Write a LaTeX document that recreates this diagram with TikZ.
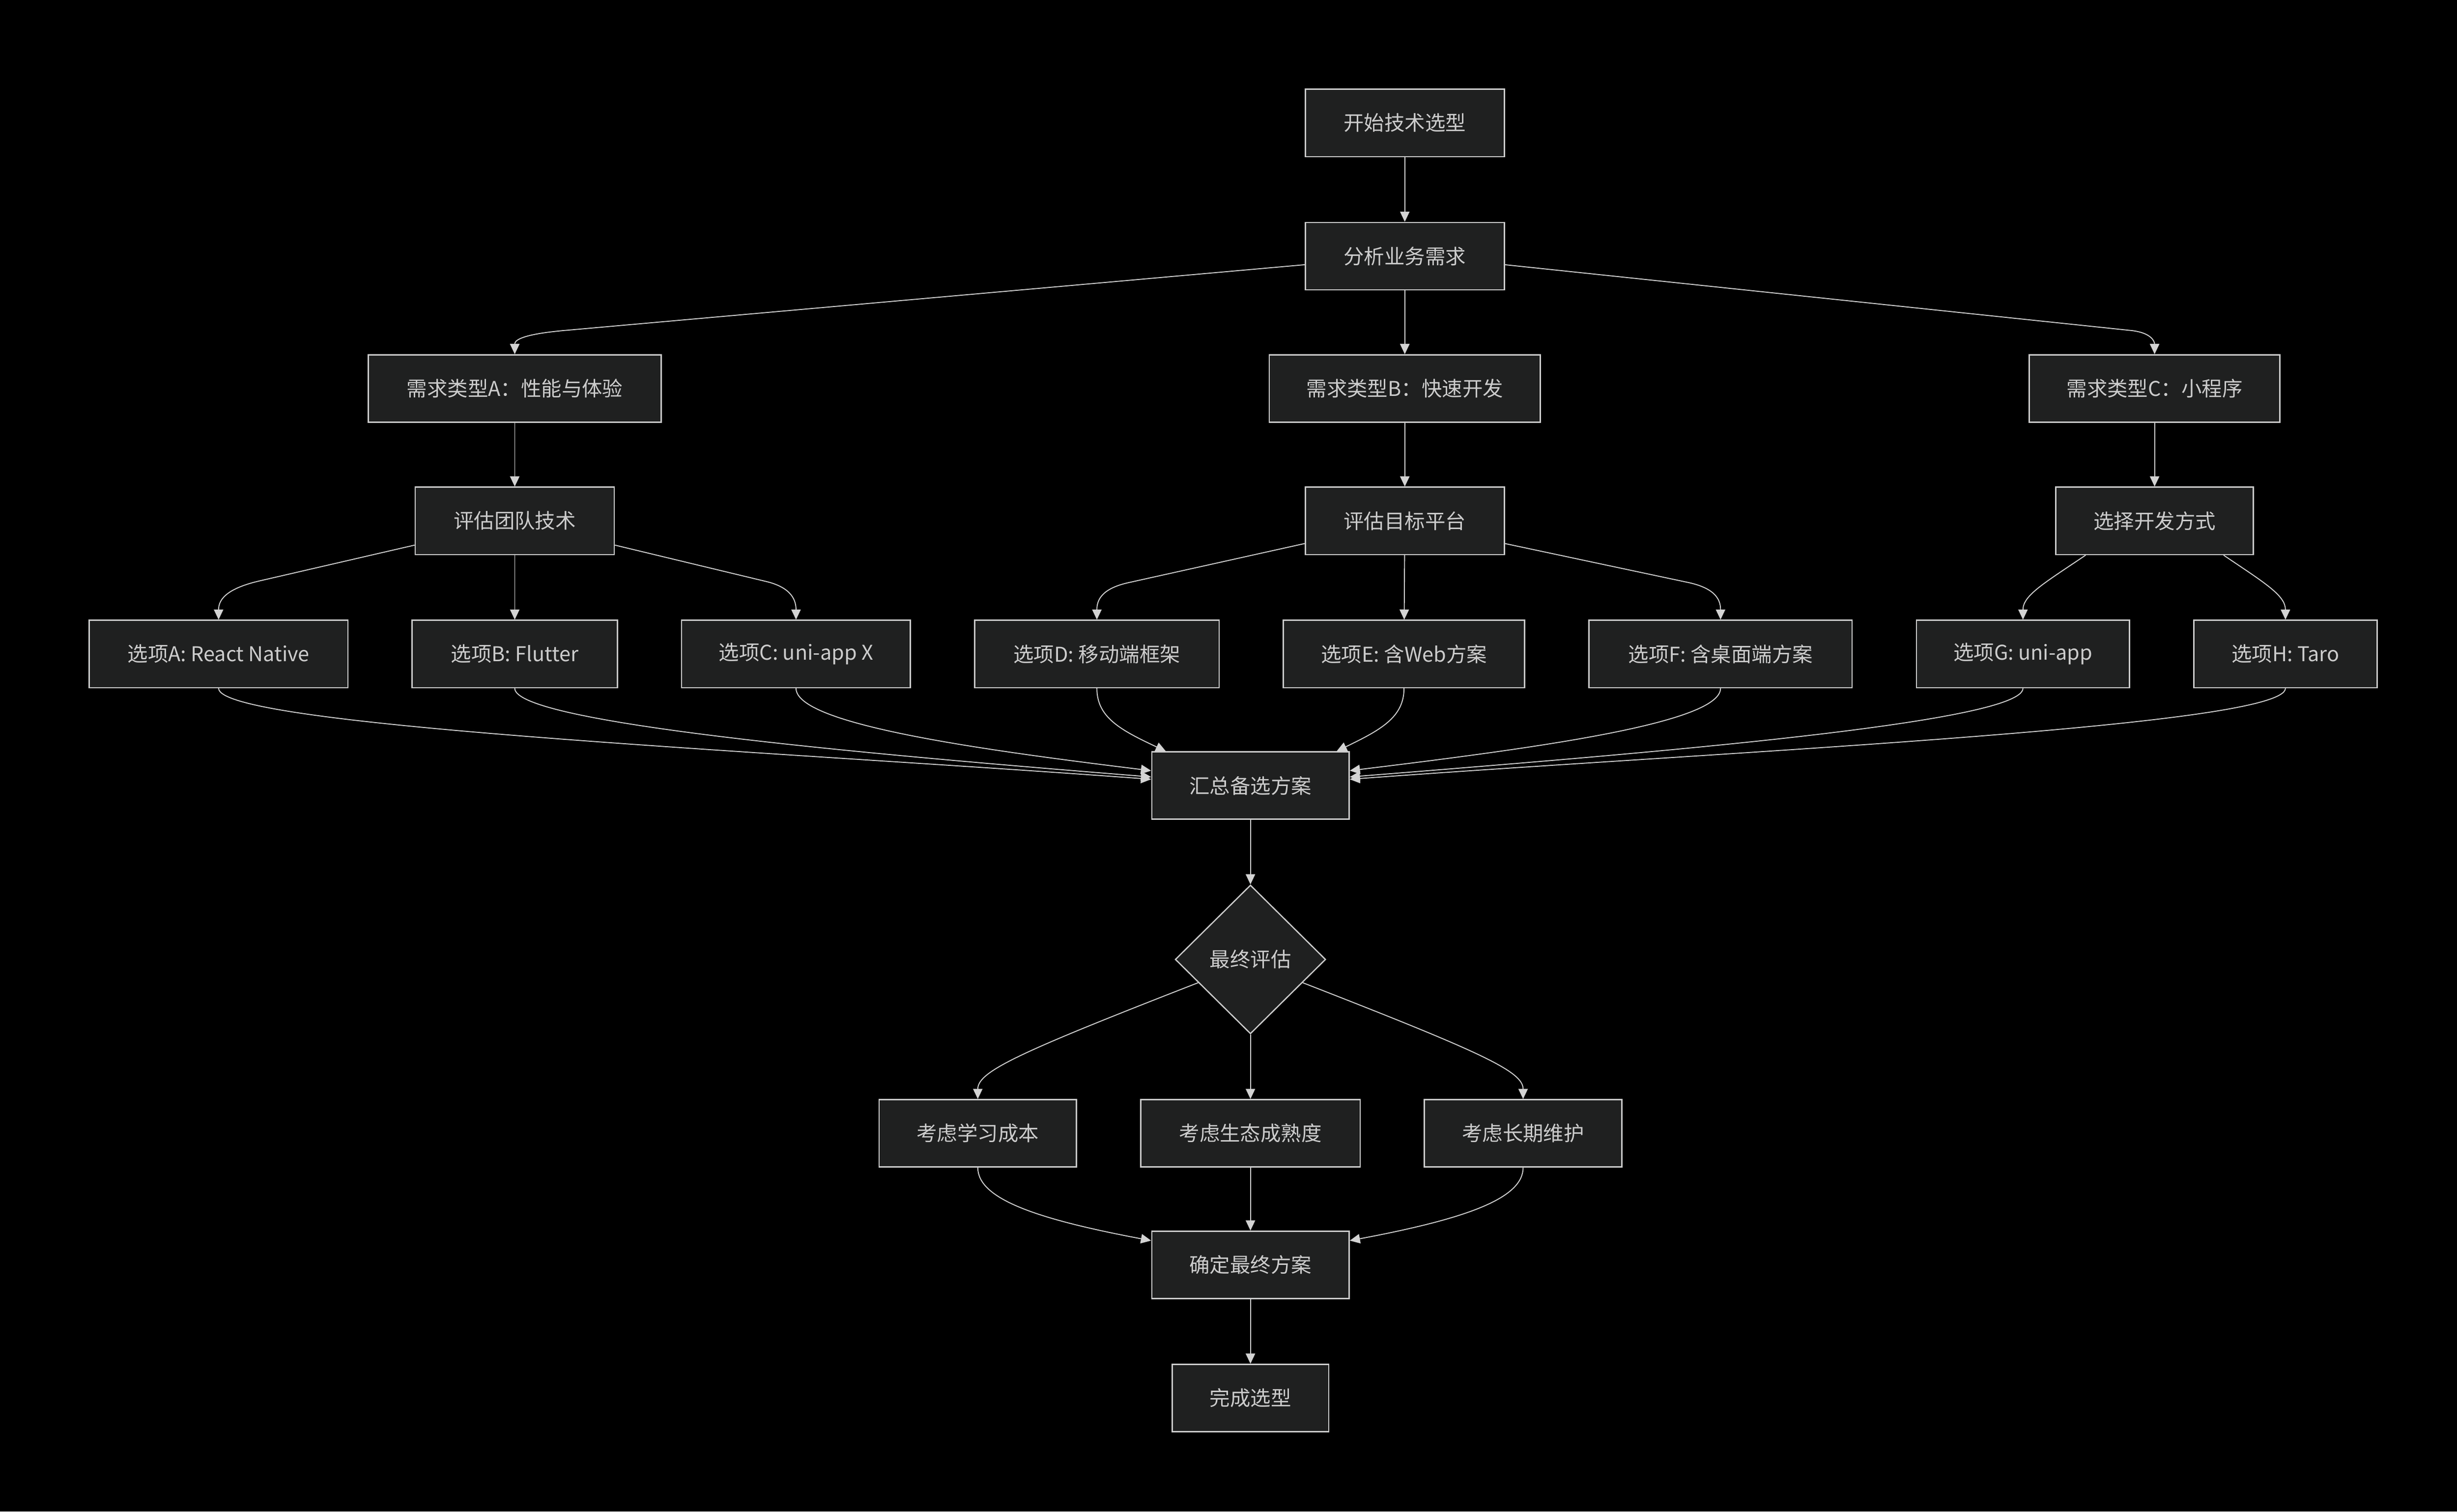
\documentclass[tikz,border=0pt]{standalone}
\usepackage{fontspec}
\setmainfont{Noto Sans CJK SC}
\usetikzlibrary{arrows.meta,shapes.geometric}
\definecolor{nodefill}{HTML}{1F2020}
\definecolor{nodeline}{HTML}{CCCCCC}
\definecolor{txtc}{HTML}{CCCCCC}
\definecolor{edgec}{HTML}{D3D3D3}
\begin{document}
\begin{tikzpicture}[x=1pt,y=-1pt,
  box/.style={draw=nodeline, fill=nodefill, line width=0.8pt, text=txtc,
    minimum height=43pt, inner sep=0pt, font=\fontsize{13}{15}\selectfont},
  dia/.style={diamond, draw=nodeline, fill=nodefill, line width=0.8pt, text=txtc,
    minimum width=96pt, minimum height=95pt, inner sep=0pt, font=\fontsize{13}{15}\selectfont},
  arr/.style={draw=edgec, line width=0.6pt, -{Triangle[length=6.5pt,width=6pt]}}]
\fill[black] (0,0) rectangle (1568,965);
\useasboundingbox (0,0) rectangle (1568,965);

% nodes
\node[box, minimum width=127pt] (start) at (896.5,78.5) {开始技术选型};
\node[box, minimum width=127pt] (analyze) at (896.5,163.5) {分析业务需求};
\node[box, minimum width=187pt] (reqA) at (328.5,248) {需求类型A：性能与体验};
\node[box, minimum width=173pt] (reqB) at (896.5,248) {需求类型B：快速开发};
\node[box, minimum width=160pt] (reqC) at (1375,248) {需求类型C：小程序};
\node[box, minimum width=127pt] (evalTeam) at (328.5,332.5) {评估团队技术};
\node[box, minimum width=127pt] (evalPlat) at (896.5,332.5) {评估目标平台};
\node[box, minimum width=126pt] (chooseDev) at (1375,332.5) {选择开发方式};
\node[box, minimum width=165pt] (optA) at (139.5,417.5) {选项A: React Native};
\node[box, minimum width=131pt] (optB) at (328.5,417.5) {选项B: Flutter};
\node[box, minimum width=146pt] (optC) at (508,417.5) {选项C: uni-app X};
\node[box, minimum width=156pt] (optD) at (700,417.5) {选项D: 移动端框架};
\node[box, minimum width=154pt] (optE) at (896,417.5) {选项E: 含Web方案};
\node[box, minimum width=168pt] (optF) at (1098,417.5) {选项F: 含桌面端方案};
\node[box, minimum width=136pt] (optG) at (1291,417.5) {选项G: uni-app};
\node[box, minimum width=117pt] (optH) at (1458.5,417.5) {选项H: Taro};
\node[box, minimum width=126pt] (summary) at (798,501.5) {汇总备选方案};
\node[dia] (final) at (798,612.5) {最终评估};
\node[box, minimum width=126pt] (cost) at (624,723.5) {考虑学习成本};
\node[box, minimum width=140pt] (eco) at (798,723.5) {考虑生态成熟度};
\node[box, minimum width=126pt] (maint) at (972,723.5) {考虑长期维护};
\node[box, minimum width=126pt] (confirm) at (798,807.5) {确定最终方案};
\node[box, minimum width=100pt] (done) at (798,892.5) {完成选型};

% edges
\draw[arr] (start) -- (analyze);
\draw[arr] ([yshift=-5.5pt]analyze.west) -- (360,211) .. controls (330,213.7) and (328.5,218) .. (reqA.north);
\draw[arr] (analyze) -- (reqB);
\draw[arr] ([yshift=-5.5pt]analyze.east) -- (1360,211) .. controls (1373,212.4) and (1375,218) .. (reqC.north);
\draw[arr] (reqA) -- (evalTeam);
\draw[arr] (reqB) -- (evalPlat);
\draw[arr] (reqC) -- (chooseDev);

\draw[arr] ([yshift=-15.5pt]evalTeam.west) -- (165,371) .. controls (142.6,376.3) and (139.5,384) .. (optA.north);
\draw[arr] (evalTeam) -- (optB);
\draw[arr] ([yshift=-15.5pt]evalTeam.east) -- (488,371) .. controls (506,375) and (508,384) .. (optC.north);
\draw[arr] ([yshift=-14.5pt]evalPlat.west) -- (720,372) .. controls (702,376) and (700,384) .. (optD.north);
\draw[arr] (evalPlat) -- (optE);
\draw[arr] ([yshift=-14.5pt]evalPlat.east) -- (1078,372) .. controls (1096,376) and (1098,384) .. (optF.north);
\draw[arr] ([xshift=-44pt]chooseDev.south) .. controls (1305,372) and (1291,380) .. (optG.north);
\draw[arr] ([xshift=44pt]chooseDev.south) .. controls (1445,372) and (1458.5,380) .. (optH.north);

\draw[arr] (optA.south) .. controls (139.5,464) and (500,480) .. ([yshift=4pt]summary.west);
\draw[arr] (optB.south) .. controls (328.5,462) and (560,482) .. ([yshift=5.5pt]summary.west);
\draw[arr] (optC.south) .. controls (508,462) and (620,478) .. ([yshift=9.5pt]summary.west);
\draw[arr] (optD.south) .. controls (700,458) and (715,466) .. ([xshift=-54pt]summary.north);
\draw[arr] (optE.south) .. controls (896,458) and (881,466) .. ([xshift=55pt]summary.north);
\draw[arr] (optF.south) .. controls (1098,462) and (976,478) .. ([yshift=9.5pt]summary.east);
\draw[arr] (optG.south) .. controls (1291,462) and (1036,482) .. ([yshift=5.5pt]summary.east);
\draw[arr] (optH.south) .. controls (1458.5,464) and (1096,480) .. ([yshift=4pt]summary.east);

\draw[arr] (summary) -- (final);
\draw[arr] (final.204) .. controls (650,672) and (624,684) .. (cost.north);
\draw[arr] (final) -- (eco);
\draw[arr] (final.336) .. controls (946,672) and (972,684) .. (maint.north);
\draw[arr] (cost.south) .. controls (624,765) and (660,778) .. ([yshift=15.5pt]confirm.west);
\draw[arr] (eco) -- (confirm);
\draw[arr] (maint.south) .. controls (972,765) and (936,778) .. ([yshift=15.5pt]confirm.east);
\draw[arr] (confirm) -- (done);
\end{tikzpicture}
\end{document}
